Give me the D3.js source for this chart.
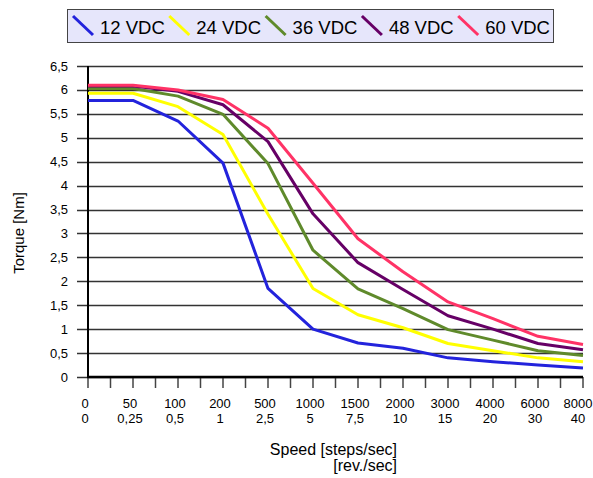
<!DOCTYPE html>
<html>
<head>
<meta charset="utf-8">
<script src="https://cdn.jsdelivr.net/npm/d3@7"></script>
<style>
  body { margin: 0; background: #fff; }
  svg text { font-family: "Liberation Sans", Arial, sans-serif; fill: #000; }
</style>
</head>
<body>
<div id="chart"></div>
<script>
// categories (two label rows under the x axis)
const speedSteps = ["0", "50", "100", "200", "500", "1000", "1500", "2000", "3000", "4000", "6000", "8000"];
const speedRev   = ["0", "0,25", "0,5", "1", "2,5", "5", "7,5", "10", "15", "20", "30", "40"];

// torque values [Nm] per supply voltage
const v12 = [5.78, 5.78, 5.35, 4.47, 1.85, 1.00, 0.71, 0.60, 0.40, 0.32, 0.25, 0.19];
const v24 = [5.93, 5.93, 5.65, 5.07, 3.40, 1.85, 1.30, 1.03, 0.70, 0.55, 0.40, 0.32];
const v36 = [6.03, 6.03, 5.87, 5.49, 4.46, 2.65, 1.84, 1.43, 0.99, 0.77, 0.55, 0.45];
const v48 = [6.08, 6.08, 5.97, 5.69, 4.92, 3.41, 2.39, 1.83, 1.28, 1.00, 0.70, 0.57];
const v60 = [6.10, 6.10, 6.00, 5.80, 5.20, 4.05, 2.89, 2.20, 1.57, 1.22, 0.85, 0.68];

const seriesNames = ["12 VDC", "24 VDC", "36 VDC", "48 VDC", "60 VDC"];
const colors = ["#2323dc", "#ffff00", "#5f8a2b", "#660066", "#ff3366"];
const yTicks = d3.range(0, 6.51, 0.5);

const series = seriesNames.map((name, i) => ({
  name, color: colors[i], values: [v12, v24, v36, v48, v60][i]
}));

const width = 593, height = 478;
const margin = {top: 66, right: 10, bottom: 101, left: 88};

const svg = d3.select('#chart').append('svg')
  .attr('width', width)
  .attr('height', height);

const x = d3.scalePoint()
  .domain(speedSteps)
  .range([margin.left, 583]);

const y = d3.scaleLinear()
  .domain([0, 6.5])
  .range([height - margin.bottom, margin.top]);

const fmt = d => d3.format('~g')(d).replace('.', ',');

// gridlines + y labels
svg.append('g')
  .selectAll('line')
  .data(yTicks)
  .join('line')
  .attr('x1', 77)
  .attr('x2', 583)
  .attr('y1', d => Math.round(y(d)) + 0.5)
  .attr('y2', d => Math.round(y(d)) + 0.5)
  .attr('stroke', '#333')
  .attr('stroke-width', 1.4);

svg.append('g')
  .selectAll('text')
  .data(yTicks)
  .join('text')
  .attr('x', 68)
  .attr('y', d => y(d) + 4.5)
  .attr('text-anchor', 'end')
  .style('font-size', '13px')
  .text(fmt);

// minor/major ticks on x axis (every half category)
const step = x.step();
const tickPos = d3.range(0, speedSteps.length * 2 - 1).map(i => x(speedSteps[0]) + i * step / 2);
svg.append('g')
  .selectAll('line')
  .data(tickPos)
  .join('line')
  .attr('x1', d => d)
  .attr('x2', d => d)
  .attr('y1', y(0))
  .attr('y2', y(0) + 11)
  .attr('stroke', '#444')
  .attr('stroke-width', 1.5);

// axes lines
svg.append('line')
  .attr('x1', x(speedSteps[0])).attr('x2', x(speedSteps[0]))
  .attr('y1', y(6.5)).attr('y2', y(0))
  .attr('stroke', '#000').attr('stroke-width', 2);
svg.append('line')
  .attr('x1', x(speedSteps[0]) - 1).attr('x2', 583)
  .attr('y1', y(0)).attr('y2', y(0))
  .attr('stroke', '#000').attr('stroke-width', 2.5);

// x labels (last one kept inside the page)
const labelX = (i) => Math.min(x(speedSteps[i]) - 3, 578);
const xl = svg.append('g');
xl.selectAll('.l1')
  .data(speedSteps)
  .join('text')
  .attr('class', 'l1')
  .attr('x', (d, i) => labelX(i))
  .attr('y', 408)
  .attr('text-anchor', 'middle')
  .style('font-size', '13px')
  .text(d => d);
xl.selectAll('.l2')
  .data(speedRev)
  .join('text')
  .attr('class', 'l2')
  .attr('x', (d, i) => labelX(i))
  .attr('y', 423)
  .attr('text-anchor', 'middle')
  .style('font-size', '13px')
  .text(d => d);

// lines
const line = d3.line()
  .x((d, i) => x(speedSteps[i]))
  .y(d => y(d));

svg.append('g')
  .selectAll('path')
  .data(series)
  .join('path')
  .attr('d', d => line(d.values))
  .attr('fill', 'none')
  .attr('stroke', d => d.color)
  .attr('stroke-width', 3)
  .attr('stroke-linejoin', 'round');

// axis titles
svg.append('text')
  .attr('transform', 'translate(24,233) rotate(-90)')
  .attr('text-anchor', 'middle')
  .style('font-size', '15px')
  .text('Torque [Nm]');
svg.append('text')
  .attr('x', 397)
  .attr('y', 455)
  .attr('text-anchor', 'end')
  .style('font-size', '16px')
  .text('Speed [steps/sec]');
svg.append('text')
  .attr('x', 397)
  .attr('y', 471)
  .attr('text-anchor', 'end')
  .style('font-size', '16px')
  .text('[rev./sec]');

// legend
const legend = svg.append('g');
legend.append('rect')
  .attr('x', 67.5).attr('y', 9.5)
  .attr('width', 486).attr('height', 33)
  .attr('fill', '#e6e6fb')
  .attr('stroke', '#444')
  .attr('stroke-width', 1);

const item = legend.selectAll('g')
  .data(series)
  .join('g')
  .attr('transform', (d, i) => `translate(${73 + i * 96.3},0)`);
item.append('line')
  .attr('x1', 0).attr('y1', 16)
  .attr('x2', 20).attr('y2', 35)
  .attr('stroke', d => d.color)
  .attr('stroke-width', 3);
item.append('text')
  .attr('x', 27)
  .attr('y', 34)
  .style('font-size', '18.5px')
  .text(d => d.name);
</script>
</body>
</html>
